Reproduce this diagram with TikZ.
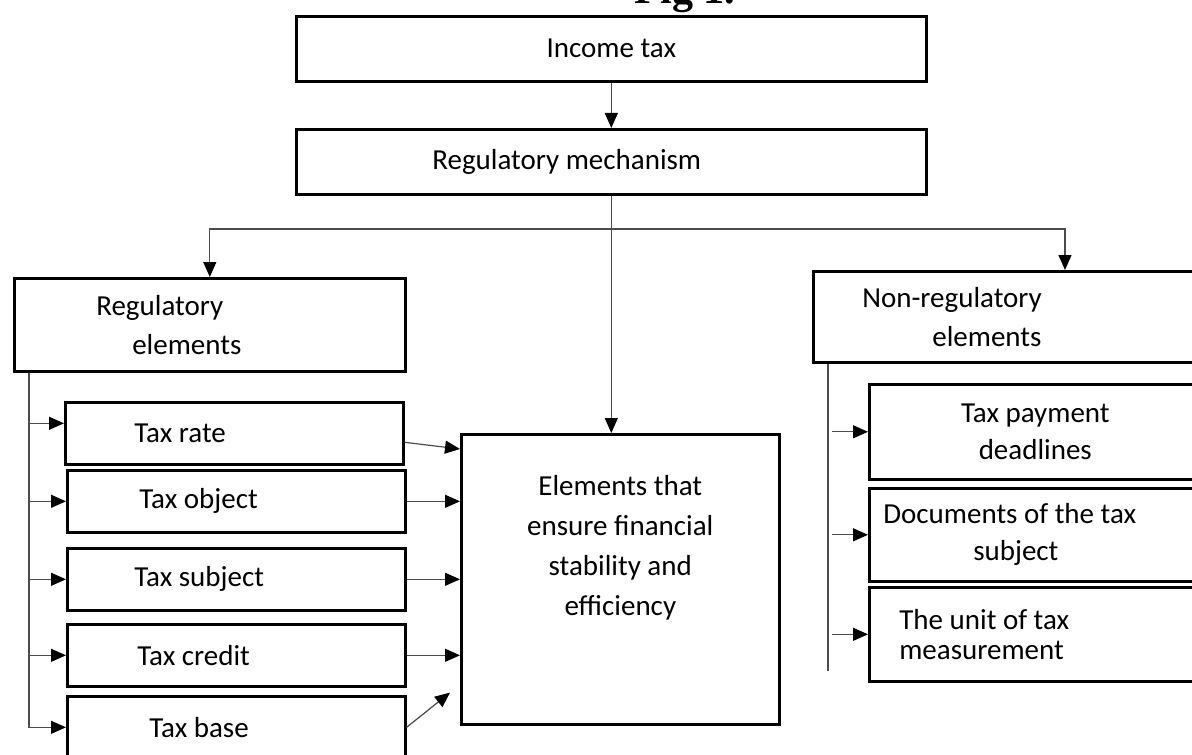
\documentclass[tikz,border=0pt]{standalone}
\usepackage{fontspec}
\setmainfont{Carlito}
\newfontfamily\figfont{Liberation Serif}
\usetikzlibrary{arrows.meta,positioning}

\tikzset{
  box/.style={draw=black, line width=1.3pt, anchor=north west, inner sep=0pt, align=flush left},
  conn/.style={line width=0.6pt, draw=black!70},
  arr/.style={conn, -{Triangle[length=7.5pt,width=6.5pt,black]}}
}

\begin{document}
\begin{tikzpicture}[x=0.5pt, y=-0.5pt, font=\fontsize{14.5}{19.5}\selectfont]
            \useasboundingbox (0,0) rectangle (1192,754);    %Rand
            \node[font=\figfont\bfseries\fontsize{21}{21}\selectfont, anchor=base] (fig) at (685,4) {Fig 1.};
            \node[box, text width=315pt, minimum height=32.5pt, align=flush center] (income) at (295,15) {Income tax};
            \node[box, text width=315pt, minimum height=32.5pt] (mech) at (295,128) {\hspace*{68pt}Regulatory mechanism};
            \node[box, text width=195.5pt, minimum height=46.5pt] (regel) at (13,277) {\hspace*{41pt}Regulatory\\\hspace*{59pt}elements};
            \node[box, text width=194pt, minimum height=45.5pt] (nonreg) at (812,270) {\hspace*{24.5pt}Non-regulatory\\\hspace*{59.5pt}elements};
            \node[box, text width=169pt, minimum height=31pt] (rate) at (64,401) {\hspace*{34.5pt}Tax rate};
            \node[box, text width=169pt, minimum height=31pt] (object) at (66,469) {\hspace*{36pt}Tax object};
            \node[box, text width=169pt, minimum height=31pt] (subject) at (66,547) {\hspace*{33.5pt}Tax subject};
            \node[box, text width=169pt, minimum height=31pt] (credit) at (66,623) {\hspace*{35pt}Tax credit};
            \node[box, text width=169pt, minimum height=31pt] (base) at (66,695) {\hspace*{41pt}Tax base};
            \node[box, text width=159pt, minimum height=145pt] (elem) at (460,433) {};
            \node[align=center, anchor=north, inner sep=0pt, font=\fontsize{14.5}{20}\selectfont] (elemtxt) at ([yshift=-21pt]elem.north) {Elements that\\ensure financial\\stability and\\efficiency};
            \node[box, text width=166pt, minimum height=47.5pt, align=flush center, font=\fontsize{14.5}{18.5}\selectfont] (paydl) at (868,383) {Tax payment\\deadlines};
            \node[box, text width=166pt, minimum height=46.5pt, font=\fontsize{14.5}{18.5}\selectfont] (docs) at (868,487) {\hspace*{7pt}Documents of the tax\\\hspace*{52pt}subject};
            \node[box, text width=166pt, minimum height=47pt, font=\fontsize{14.5}{15}\selectfont] (unit) at (868,586) {\hspace*{15pt}The unit of tax\\\hspace*{15pt}measurement};
            \draw[arr] (income.south) -- (mech.north);        %oben
            \draw[arr] (mech.south) -- (elem.north -| mech.south);
            \coordinate (fork) at (610,229);
            \draw[arr] (fork) -| (regel.north);                %links
            \draw[arr] (fork) -| ([xshift=126.5pt]nonreg.north west);  %rechts
            \coordinate (lspine) at ([xshift=8pt]regel.south west);
            \draw[arr] (lspine) |- (base.west);
            \draw[arr] ([yshift=5pt]rate.west -| lspine) -- ([yshift=5pt]rate.west);
            \foreach \n in {object,subject,credit}
              \draw[arr] (lspine |- \n.west) -- (\n.west);
            \draw[arr] ([yshift=-4.5pt]rate.east) -- ([yshift=-8pt]elem.north west);
            \foreach \n in {object,subject,credit}
              \draw[arr] (\n.east) -- (elem.west |- \n.east);
            \draw[arr] (base.east) -- ([xshift=-5pt,yshift=16.5pt]elem.south west);
            \coordinate (rspine) at ([xshift=8pt]nonreg.south west);
            \draw[conn] (rspine) -- ([yshift=6pt]rspine |- unit.south);
            \foreach \n in {paydl,docs,unit}
              \draw[arr] ([xshift=2pt]rspine |- \n.west) -- (\n.west);
        \end{tikzpicture}
\end{document}
